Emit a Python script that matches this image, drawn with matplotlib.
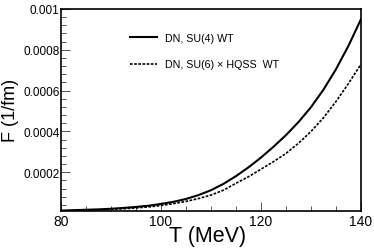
import matplotlib
matplotlib.use("Agg")
import matplotlib.pyplot as plt
from matplotlib.ticker import FixedLocator, FixedFormatter, MultipleLocator

plt.rcParams['font.family'] = ['Liberation Sans', 'DejaVu Sans']

T = [80, 82.5, 85, 87.5, 90, 92.5, 95, 97.5, 100, 102.5, 105, 107.5, 110,
     112.5, 115, 117.5, 120, 122.5, 125, 127.5, 130, 132.5, 135, 137.5, 140]
F_su4 = [1.2e-5, 1.4e-5, 1.6e-5, 1.8e-5, 2.1e-5, 2.5e-5, 3.0e-5, 3.6e-5, 4.45e-5,
         5.5e-5, 6.9e-5, 8.8e-5, 1.12e-4, 1.43e-4, 1.81e-4, 2.24e-4, 2.72e-4,
         3.25e-4, 3.82e-4, 4.46e-4, 5.19e-4, 6.05e-4, 7.05e-4, 8.2e-4, 9.5e-4]
F_su6 = [1.0e-5, 1.15e-5, 1.35e-5, 1.55e-5, 1.8e-5, 2.1e-5, 2.5e-5, 3.0e-5, 3.7e-5,
         4.6e-5, 5.7e-5, 7.1e-5, 8.8e-5, 1.12e-4, 1.46e-4, 1.78e-4, 2.15e-4,
         2.52e-4, 2.92e-4, 3.42e-4, 4.0e-4, 4.67e-4, 5.47e-4, 6.35e-4, 7.3e-4]
labels = ["DN, SU(4) WT", "DN, SU(6) \u00d7 HQSS  WT"]
xticks = [80, 100, 120, 140]
yticks = [0.0002, 0.0004, 0.0006, 0.0008, 0.001]
yticklabels = ["0.0002", "0.0004", "0.0006", "0.0008", "0.001"]

fig = plt.figure(figsize=(3.74, 2.53), dpi=100)
ax = fig.add_axes([61/374, 41/253, 300/374, 202/253])

ax.plot(T, F_su4, color='black', lw=1.5, label=labels[0])
ax.plot(T, F_su6, color='black', lw=1.2, linestyle=(0, (1.6, 0.9)), label=labels[1])

ax.set_xlim(80, 140)
ax.set_ylim(1e-5, 1e-3)

ax.xaxis.set_major_locator(FixedLocator(xticks))
ax.xaxis.set_minor_locator(MultipleLocator(5))
ax.yaxis.set_major_locator(FixedLocator(yticks))
ax.yaxis.set_major_formatter(FixedFormatter(yticklabels))
ax.yaxis.set_minor_locator(MultipleLocator(0.00004))

ax.tick_params(which='both', direction='in', color='#555555', width=0.7,
               top=False, right=False)
ax.tick_params(which='major', length=6.5)
ax.tick_params(which='minor', length=3.5)
ax.tick_params(axis='x', labelsize=10, pad=2)
ax.tick_params(axis='y', labelsize=8.5, pad=1)

for s in ax.spines.values():
    s.set_linewidth(1.2)
    s.set_color('black')

ax.set_xlabel("T (MeV)", fontsize=15.5)
ax.set_ylabel("F (1/fm)", fontsize=13)
ax.xaxis.set_label_coords(0.487, -0.07)
ax.yaxis.set_label_coords(-0.14, 0.505)

leg = ax.legend(loc='upper left', bbox_to_anchor=(0.23, 0.88), frameon=False,
                fontsize=7.7, handlelength=2.5, handletextpad=0.8,
                labelspacing=1.5, borderpad=0, borderaxespad=0)

fig.savefig("out.png", dpi=100)
